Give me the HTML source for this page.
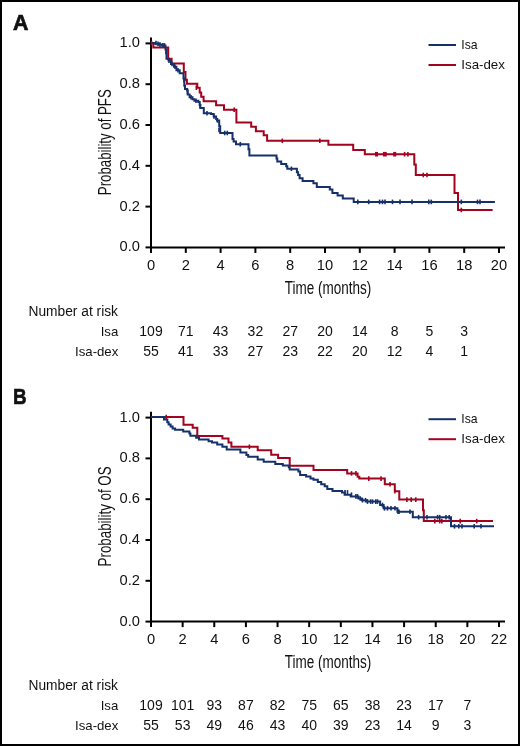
<!DOCTYPE html>
<html><head><meta charset="utf-8"><title>Kaplan-Meier</title>
<style>
html,body{margin:0;padding:0;background:#fff;}
body{width:520px;height:746px;overflow:hidden;}
svg{display:block;font-family:"Liberation Sans", sans-serif;will-change:transform;}
</style></head><body>
<svg width="520" height="746" viewBox="0 0 520 746" fill="#111">
<rect x="1" y="1" width="518" height="744" fill="#fff" stroke="#000" stroke-width="2"/>
<text x="13" y="30.2" font-size="21.5" font-weight="bold" stroke="#111" stroke-width="0.7" textLength="15.4" lengthAdjust="spacingAndGlyphs">A</text>
<g stroke="#000" stroke-width="2" fill="none">
<line x1="151" y1="37.5" x2="151" y2="248.4"/>
<line x1="150" y1="247.4" x2="505" y2="247.4"/>
<line x1="145.5" y1="247.4" x2="151" y2="247.4"/>
<line x1="145.5" y1="206.6" x2="151" y2="206.6"/>
<line x1="145.5" y1="165.8" x2="151" y2="165.8"/>
<line x1="145.5" y1="125" x2="151" y2="125"/>
<line x1="145.5" y1="84.2" x2="151" y2="84.2"/>
<line x1="145.5" y1="43.4" x2="151" y2="43.4"/>
<line x1="151" y1="247.4" x2="151" y2="252.9"/>
<line x1="185.8" y1="247.4" x2="185.8" y2="252.9"/>
<line x1="220.6" y1="247.4" x2="220.6" y2="252.9"/>
<line x1="255.4" y1="247.4" x2="255.4" y2="252.9"/>
<line x1="290.2" y1="247.4" x2="290.2" y2="252.9"/>
<line x1="325" y1="247.4" x2="325" y2="252.9"/>
<line x1="359.8" y1="247.4" x2="359.8" y2="252.9"/>
<line x1="394.6" y1="247.4" x2="394.6" y2="252.9"/>
<line x1="429.4" y1="247.4" x2="429.4" y2="252.9"/>
<line x1="464.2" y1="247.4" x2="464.2" y2="252.9"/>
<line x1="499" y1="247.4" x2="499" y2="252.9"/>
</g>
<g font-size="14.7" text-anchor="end">
<text x="140" y="251.4">0.0</text>
<text x="140" y="210.6">0.2</text>
<text x="140" y="169.8">0.4</text>
<text x="140" y="129">0.6</text>
<text x="140" y="88.2">0.8</text>
<text x="140" y="47.4">1.0</text>
</g>
<g font-size="14.7" text-anchor="middle">
<text x="151" y="270.1">0</text>
<text x="185.8" y="270.1">2</text>
<text x="220.6" y="270.1">4</text>
<text x="255.4" y="270.1">6</text>
<text x="290.2" y="270.1">8</text>
<text x="325" y="270.1">10</text>
<text x="359.8" y="270.1">12</text>
<text x="394.6" y="270.1">14</text>
<text x="429.4" y="270.1">16</text>
<text x="464.2" y="270.1">18</text>
<text x="499" y="270.1">20</text>
</g>
<text x="328" y="294.2" font-size="17.5" text-anchor="middle" textLength="86.5" lengthAdjust="spacingAndGlyphs">Time (months)</text>
<text transform="translate(110.5 142.2) rotate(-90)" font-size="17.5" text-anchor="middle" textLength="106" lengthAdjust="spacingAndGlyphs">Probability of PFS</text>
<line x1="428.5" y1="45" x2="456" y2="45" stroke="#16306b" stroke-width="2"/>
<line x1="428.5" y1="65" x2="456" y2="65" stroke="#a2031f" stroke-width="2"/>
<text x="461.3" y="48.7" font-size="13.3" textLength="16.3" lengthAdjust="spacingAndGlyphs">Isa</text>
<text x="461.3" y="68.9" font-size="13.3">Isa-dex</text>
<text x="28.5" y="316" font-size="14.0" textLength="89.5" lengthAdjust="spacingAndGlyphs">Number at risk</text>
<g font-size="13.2" text-anchor="end">
<text x="118.3" y="336">Isa</text>
<text x="118.3" y="356">Isa-dex</text>
</g>
<g font-size="14.0" text-anchor="middle">
<text x="151" y="336">109</text>
<text x="185.8" y="336">71</text>
<text x="220.6" y="336">43</text>
<text x="255.4" y="336">32</text>
<text x="290.2" y="336">27</text>
<text x="325" y="336">20</text>
<text x="359.8" y="336">14</text>
<text x="394.6" y="336">8</text>
<text x="429.4" y="336">5</text>
<text x="464.2" y="336">3</text>
<text x="151" y="356">55</text>
<text x="185.8" y="356">41</text>
<text x="220.6" y="356">33</text>
<text x="255.4" y="356">27</text>
<text x="290.2" y="356">23</text>
<text x="325" y="356">22</text>
<text x="359.8" y="356">20</text>
<text x="394.6" y="356">12</text>
<text x="429.4" y="356">4</text>
<text x="464.2" y="356">1</text>
</g>
<text x="13" y="404.4" font-size="21.5" font-weight="bold" stroke="#111" stroke-width="0.6" textLength="13.6" lengthAdjust="spacingAndGlyphs">B</text>
<g stroke="#000" stroke-width="2" fill="none">
<line x1="151" y1="411.7" x2="151" y2="622.6"/>
<line x1="150" y1="621.6" x2="505" y2="621.6"/>
<line x1="145.5" y1="621.6" x2="151" y2="621.6"/>
<line x1="145.5" y1="580.8" x2="151" y2="580.8"/>
<line x1="145.5" y1="540" x2="151" y2="540"/>
<line x1="145.5" y1="499.2" x2="151" y2="499.2"/>
<line x1="145.5" y1="458.4" x2="151" y2="458.4"/>
<line x1="145.5" y1="417.6" x2="151" y2="417.6"/>
<line x1="151" y1="621.6" x2="151" y2="627.1"/>
<line x1="182.64" y1="621.6" x2="182.64" y2="627.1"/>
<line x1="214.27" y1="621.6" x2="214.27" y2="627.1"/>
<line x1="245.91" y1="621.6" x2="245.91" y2="627.1"/>
<line x1="277.55" y1="621.6" x2="277.55" y2="627.1"/>
<line x1="309.18" y1="621.6" x2="309.18" y2="627.1"/>
<line x1="340.82" y1="621.6" x2="340.82" y2="627.1"/>
<line x1="372.45" y1="621.6" x2="372.45" y2="627.1"/>
<line x1="404.09" y1="621.6" x2="404.09" y2="627.1"/>
<line x1="435.73" y1="621.6" x2="435.73" y2="627.1"/>
<line x1="467.36" y1="621.6" x2="467.36" y2="627.1"/>
<line x1="499" y1="621.6" x2="499" y2="627.1"/>
</g>
<g font-size="14.7" text-anchor="end">
<text x="140" y="625.6">0.0</text>
<text x="140" y="584.8">0.2</text>
<text x="140" y="544">0.4</text>
<text x="140" y="503.2">0.6</text>
<text x="140" y="462.4">0.8</text>
<text x="140" y="421.6">1.0</text>
</g>
<g font-size="14.7" text-anchor="middle">
<text x="151" y="644.3">0</text>
<text x="182.64" y="644.3">2</text>
<text x="214.27" y="644.3">4</text>
<text x="245.91" y="644.3">6</text>
<text x="277.55" y="644.3">8</text>
<text x="309.18" y="644.3">10</text>
<text x="340.82" y="644.3">12</text>
<text x="372.45" y="644.3">14</text>
<text x="404.09" y="644.3">16</text>
<text x="435.73" y="644.3">18</text>
<text x="467.36" y="644.3">20</text>
<text x="499" y="644.3">22</text>
</g>
<text x="328" y="668.4" font-size="17.5" text-anchor="middle" textLength="86.5" lengthAdjust="spacingAndGlyphs">Time (months)</text>
<text transform="translate(110.5 516.4) rotate(-90)" font-size="17.5" text-anchor="middle" textLength="100" lengthAdjust="spacingAndGlyphs">Probability of OS</text>
<line x1="428.5" y1="419.2" x2="456" y2="419.2" stroke="#16306b" stroke-width="2"/>
<line x1="428.5" y1="439.2" x2="456" y2="439.2" stroke="#a2031f" stroke-width="2"/>
<text x="461.3" y="422.9" font-size="13.3" textLength="16.3" lengthAdjust="spacingAndGlyphs">Isa</text>
<text x="461.3" y="443.1" font-size="13.3">Isa-dex</text>
<text x="28.5" y="690.2" font-size="14.0" textLength="89.5" lengthAdjust="spacingAndGlyphs">Number at risk</text>
<g font-size="13.2" text-anchor="end">
<text x="118.3" y="710.2">Isa</text>
<text x="118.3" y="730.2">Isa-dex</text>
</g>
<g font-size="14.0" text-anchor="middle">
<text x="151" y="710.2">109</text>
<text x="182.64" y="710.2">101</text>
<text x="214.27" y="710.2">93</text>
<text x="245.91" y="710.2">87</text>
<text x="277.55" y="710.2">82</text>
<text x="309.18" y="710.2">75</text>
<text x="340.82" y="710.2">65</text>
<text x="372.45" y="710.2">38</text>
<text x="404.09" y="710.2">23</text>
<text x="435.73" y="710.2">17</text>
<text x="467.36" y="710.2">7</text>
<text x="151" y="730.2">55</text>
<text x="182.64" y="730.2">53</text>
<text x="214.27" y="730.2">49</text>
<text x="245.91" y="730.2">46</text>
<text x="277.55" y="730.2">43</text>
<text x="309.18" y="730.2">40</text>
<text x="340.82" y="730.2">39</text>
<text x="372.45" y="730.2">23</text>
<text x="404.09" y="730.2">14</text>
<text x="435.73" y="730.2">9</text>
<text x="467.36" y="730.2">3</text>
</g>
<g fill="none" stroke-width="2" stroke-linejoin="miter" stroke-linecap="butt">
<polyline stroke="#a2031f" points="151,43 153.3,43 153.3,47.4 168.2,47.4 168.2,58.8 171.6,58.8 171.6,63.6 183.8,63.6 183.8,72.1 185.5,72.1 185.5,79.8 186.9,79.8 186.9,83.8 197.3,83.8 197.3,87.7 199.7,87.7 199.7,92.5 201.2,92.5 201.2,96.8 203.6,96.8 203.6,101.2 216.1,101.2 216.1,105.2 224,105.2 224,109.7 236.4,109.7 236.4,122.4 251.2,122.4 251.2,126.7 255.9,126.7 255.9,131.2 263.7,131.2 263.7,135.3 267.1,135.3 267.1,140.8 328.4,140.8 328.4,144.7 353.2,144.7 353.2,149.9 364.8,149.9 364.8,154.2 414.3,154.2 414.3,164.5 415.8,164.5 415.8,175 454.5,175 454.5,193 458,193 458,210 492.6,210"/>
<polyline stroke="#16306b" points="151,43 155,43 155,43.8 159,43.8 159,44.6 162,44.6 162,45.4 165.5,45.4 165.5,49.5 166.5,49.5 166.5,58.7 168.5,58.7 168.5,60.6 171,60.6 171,64 174,64 174,66.8 176.4,66.8 176.4,70.2 179.7,70.2 179.7,73.3 183.5,73.3 183.5,78.4 184.3,78.4 184.3,85.8 185,85.8 185,89.1 187.2,89.1 187.2,90.6 187.7,90.6 187.7,94.4 189.6,94.4 189.6,97.3 192.5,97.3 192.5,99.2 194.4,99.2 194.4,100.7 198.3,100.7 198.3,102.1 199.7,102.1 199.7,105 200.4,105 200.4,107.9 203.8,107.9 203.8,113.2 211,113.2 211,114.1 213.7,114.1 213.7,116.5 216.1,116.5 216.1,118.9 217,118.9 217,120.4 219.2,120.4 219.2,126.2 220.2,126.2 220.2,133 232.5,133 232.5,139 233.6,139 233.6,141.6 236,141.6 236,144.2 248.5,144.2 248.5,149.3 249.4,149.3 249.4,155.5 276.5,155.5 276.5,158.5 277.3,158.5 277.3,161.4 281.2,161.4 281.2,164.1 286.2,164.1 286.2,166.3 287.3,166.3 287.3,168.8 296.9,168.8 296.9,172.3 298.1,172.3 298.1,175 299.6,175 299.6,178.3 302.6,178.3 302.6,181.1 313.4,181.1 313.4,183.2 316.8,183.2 316.8,187 329.8,187 329.8,189.6 332.4,189.6 332.4,193 337.6,193 337.6,195.6 342.8,195.6 342.8,198.4 353.7,198.4 353.7,201.9 494.9,201.9"/>
<polyline stroke="#a2031f" points="151,417 183.5,417 183.5,424.7 192.7,424.7 192.7,427.7 197.3,427.7 197.3,436 222.4,436 222.4,438.6 228.5,438.6 228.5,442.5 231.4,442.5 231.4,446.8 257.7,446.8 257.7,450.2 271.2,450.2 271.2,454.7 278.1,454.7 278.1,458 289.7,458 289.7,465.8 313.5,465.8 313.5,469.9 347.2,469.9 347.2,473.4 357.6,473.4 357.6,476.8 359.3,476.8 359.3,478.6 384.8,478.6 384.8,484.3 394.8,484.3 394.8,491.2 399.3,491.2 399.3,499.6 423,499.6 423,510.2 423.8,510.2 423.8,521.1 493,521.1"/>
<polyline stroke="#16306b" points="151,417 164,417 164,419.6 167.3,419.6 167.3,422.3 168.6,422.3 168.6,424.4 170.6,424.4 170.6,426.5 172.6,426.5 172.6,428.4 175,428.4 175,429.7 183.2,429.7 183.2,431.6 189.4,431.6 189.4,433.6 190.4,433.6 190.4,435.8 196.2,435.8 196.2,437.7 199,437.7 199,439.4 208.6,439.4 208.6,441.2 212,441.2 212,442.5 217.2,442.5 217.2,444.6 222.4,444.6 222.4,446.7 226.7,446.7 226.7,449.4 240.4,449.4 240.4,452.5 246.4,452.5 246.4,455.1 248.2,455.1 248.2,456.8 257.7,456.8 257.7,459.4 263.7,459.4 263.7,461.7 275.3,461.7 275.3,464.1 282.8,464.1 282.8,465.5 288.8,465.5 288.8,467.2 289.7,467.2 289.7,469.5 298.4,469.5 298.4,471.5 300.1,471.5 300.1,475 306.1,475 306.1,476.4 310.5,476.4 310.5,478.5 313.5,478.5 313.5,479.8 317.8,479.8 317.8,482 321.2,482 321.2,484.3 324.7,484.3 324.7,486.3 327.3,486.3 327.3,488.9 332.5,488.9 332.5,491 342,491 342,492.4 344.6,492.4 344.6,494.7 350.7,494.7 350.7,496.4 358.5,496.4 358.5,498.5 361.9,498.5 361.9,500.2 367.1,500.2 367.1,501.6 380.1,501.6 380.1,505 383.6,505 383.6,508.3 397.4,508.3 397.4,511.7 412.8,511.7 412.8,517.2 451,517.2 451,526.3 494,526.3"/>
</g>
<g stroke="#a2031f"><line x1="151.5" y1="40.7" x2="151.5" y2="45.3" stroke-width="1.6"/><line x1="196.3" y1="85.4" x2="196.3" y2="90" stroke-width="1.6"/><line x1="234.2" y1="107.4" x2="234.2" y2="112" stroke-width="1.6"/><line x1="282.3" y1="138.5" x2="282.3" y2="143.1" stroke-width="1.6"/><line x1="319.8" y1="138.5" x2="319.8" y2="143.1" stroke-width="1.6"/><line x1="376.5" y1="151.9" x2="376.5" y2="156.5" stroke-width="3"/><line x1="384.8" y1="151.9" x2="384.8" y2="156.5" stroke-width="3.8"/><line x1="394.7" y1="151.9" x2="394.7" y2="156.5" stroke-width="3"/><line x1="404.6" y1="151.9" x2="404.6" y2="156.5" stroke-width="1.6"/><line x1="407.9" y1="151.9" x2="407.9" y2="156.5" stroke-width="1.6"/><line x1="423.3" y1="172.7" x2="423.3" y2="177.3" stroke-width="1.6"/><line x1="427" y1="172.7" x2="427" y2="177.3" stroke-width="1.6"/><line x1="461.3" y1="207.7" x2="461.3" y2="212.3" stroke-width="1.6"/></g>
<g stroke="#16306b"><line x1="156" y1="40.7" x2="156" y2="45.3" stroke-width="1.6"/><line x1="158" y1="41.5" x2="158" y2="46.1" stroke-width="1.6"/><line x1="160" y1="42.3" x2="160" y2="46.9" stroke-width="1.6"/><line x1="163" y1="43.1" x2="163" y2="47.7" stroke-width="1.6"/><line x1="164.5" y1="43.1" x2="164.5" y2="47.7" stroke-width="1.6"/><line x1="166" y1="49.7" x2="166" y2="54.3" stroke-width="1.6"/><line x1="169" y1="58.3" x2="169" y2="62.9" stroke-width="1.6"/><line x1="172" y1="61.7" x2="172" y2="66.3" stroke-width="1.6"/><line x1="175" y1="64.5" x2="175" y2="69.1" stroke-width="1.6"/><line x1="178" y1="67.9" x2="178" y2="72.5" stroke-width="1.6"/><line x1="184" y1="77.7" x2="184" y2="82.3" stroke-width="1.6"/><line x1="185" y1="84.7" x2="185" y2="89.3" stroke-width="1.6"/><line x1="187.5" y1="89.7" x2="187.5" y2="94.3" stroke-width="1.6"/><line x1="191" y1="95" x2="191" y2="99.6" stroke-width="1.6"/><line x1="196" y1="98.4" x2="196" y2="103" stroke-width="1.6"/><line x1="200" y1="103.7" x2="200" y2="108.3" stroke-width="1.6"/><line x1="207" y1="110.9" x2="207" y2="115.5" stroke-width="1.6"/><line x1="214" y1="114.2" x2="214" y2="118.8" stroke-width="1.6"/><line x1="217.5" y1="118.1" x2="217.5" y2="122.7" stroke-width="1.6"/><line x1="219" y1="127.7" x2="219" y2="132.3" stroke-width="1.6"/><line x1="224.7" y1="130.7" x2="224.7" y2="135.3" stroke-width="1.6"/><line x1="227.3" y1="130.7" x2="227.3" y2="135.3" stroke-width="1.6"/><line x1="240.3" y1="141.9" x2="240.3" y2="146.5" stroke-width="1.6"/><line x1="291.4" y1="166.5" x2="291.4" y2="171.1" stroke-width="1.6"/><line x1="357.8" y1="199.6" x2="357.8" y2="204.2" stroke-width="1.6"/><line x1="368.7" y1="199.6" x2="368.7" y2="204.2" stroke-width="1.6"/><line x1="379.6" y1="199.6" x2="379.6" y2="204.2" stroke-width="1.6"/><line x1="382.5" y1="199.6" x2="382.5" y2="204.2" stroke-width="1.6"/><line x1="385" y1="199.6" x2="385" y2="204.2" stroke-width="1.6"/><line x1="392.5" y1="199.6" x2="392.5" y2="204.2" stroke-width="1.6"/><line x1="400" y1="199.6" x2="400" y2="204.2" stroke-width="1.6"/><line x1="412" y1="199.6" x2="412" y2="204.2" stroke-width="1.6"/><line x1="428.8" y1="199.6" x2="428.8" y2="204.2" stroke-width="1.6"/><line x1="431.3" y1="199.6" x2="431.3" y2="204.2" stroke-width="1.6"/><line x1="461.3" y1="199.6" x2="461.3" y2="204.2" stroke-width="1.6"/><line x1="477.5" y1="199.6" x2="477.5" y2="204.2" stroke-width="1.6"/><line x1="480" y1="199.6" x2="480" y2="204.2" stroke-width="1.6"/></g>
<g stroke="#a2031f"><line x1="166.2" y1="414.7" x2="166.2" y2="419.3" stroke-width="1.6"/><line x1="249.4" y1="444.5" x2="249.4" y2="449.1" stroke-width="1.6"/><line x1="351.5" y1="471.1" x2="351.5" y2="475.7" stroke-width="1.6"/><line x1="355.9" y1="471.1" x2="355.9" y2="475.7" stroke-width="1.6"/><line x1="368.8" y1="476.3" x2="368.8" y2="480.9" stroke-width="1.6"/><line x1="381" y1="476.3" x2="381" y2="480.9" stroke-width="1.6"/><line x1="390" y1="482" x2="390" y2="486.6" stroke-width="1.6"/><line x1="394.9" y1="488.9" x2="394.9" y2="493.5" stroke-width="1.6"/><line x1="406.9" y1="497.3" x2="406.9" y2="501.9" stroke-width="1.6"/><line x1="411.2" y1="497.3" x2="411.2" y2="501.9" stroke-width="1.6"/><line x1="415.8" y1="497.3" x2="415.8" y2="501.9" stroke-width="1.6"/><line x1="434.8" y1="518.8" x2="434.8" y2="523.4" stroke-width="1.6"/><line x1="439.7" y1="518.8" x2="439.7" y2="523.4" stroke-width="1.6"/><line x1="441.8" y1="518.8" x2="441.8" y2="523.4" stroke-width="1.6"/><line x1="460.2" y1="518.8" x2="460.2" y2="523.4" stroke-width="1.6"/><line x1="476.7" y1="518.8" x2="476.7" y2="523.4" stroke-width="1.6"/></g>
<g stroke="#16306b"><line x1="345" y1="490.1" x2="345" y2="494.7" stroke-width="1.6"/><line x1="347.5" y1="490.1" x2="347.5" y2="494.7" stroke-width="1.6"/><line x1="351.5" y1="492.4" x2="351.5" y2="497" stroke-width="1.6"/><line x1="355.9" y1="494.1" x2="355.9" y2="498.7" stroke-width="1.6"/><line x1="357.5" y1="494.1" x2="357.5" y2="498.7" stroke-width="1.6"/><line x1="360.2" y1="496.2" x2="360.2" y2="500.8" stroke-width="1.6"/><line x1="362.5" y1="497.9" x2="362.5" y2="502.5" stroke-width="1.6"/><line x1="365.5" y1="497.9" x2="365.5" y2="502.5" stroke-width="1.6"/><line x1="367.5" y1="499.3" x2="367.5" y2="503.9" stroke-width="1.6"/><line x1="370.6" y1="499.3" x2="370.6" y2="503.9" stroke-width="1.6"/><line x1="372.5" y1="499.3" x2="372.5" y2="503.9" stroke-width="1.6"/><line x1="375.8" y1="499.3" x2="375.8" y2="503.9" stroke-width="1.6"/><line x1="377.5" y1="499.3" x2="377.5" y2="503.9" stroke-width="1.6"/><line x1="382.5" y1="502.7" x2="382.5" y2="507.3" stroke-width="1.6"/><line x1="384.5" y1="506" x2="384.5" y2="510.6" stroke-width="1.6"/><line x1="387.5" y1="506" x2="387.5" y2="510.6" stroke-width="1.6"/><line x1="391" y1="506" x2="391" y2="510.6" stroke-width="1.6"/><line x1="395" y1="506" x2="395" y2="510.6" stroke-width="1.6"/><line x1="399" y1="509.4" x2="399" y2="514" stroke-width="1.6"/><line x1="398" y1="509.4" x2="398" y2="514" stroke-width="1.6"/><line x1="410" y1="509.4" x2="410" y2="514" stroke-width="1.6"/><line x1="418.6" y1="514.9" x2="418.6" y2="519.5" stroke-width="1.6"/><line x1="427" y1="514.9" x2="427" y2="519.5" stroke-width="1.6"/><line x1="437.6" y1="514.9" x2="437.6" y2="519.5" stroke-width="1.6"/><line x1="439.7" y1="514.9" x2="439.7" y2="519.5" stroke-width="1.6"/><line x1="446" y1="514.9" x2="446" y2="519.5" stroke-width="1.6"/><line x1="449.2" y1="514.9" x2="449.2" y2="519.5" stroke-width="1.6"/><line x1="454.5" y1="524" x2="454.5" y2="528.6" stroke-width="1.6"/><line x1="458.8" y1="524" x2="458.8" y2="528.6" stroke-width="1.6"/><line x1="462" y1="524" x2="462" y2="528.6" stroke-width="1.6"/><line x1="474.2" y1="524" x2="474.2" y2="528.6" stroke-width="1.6"/><line x1="481" y1="524" x2="481" y2="528.6" stroke-width="1.6"/></g>
</svg>
</body></html>
